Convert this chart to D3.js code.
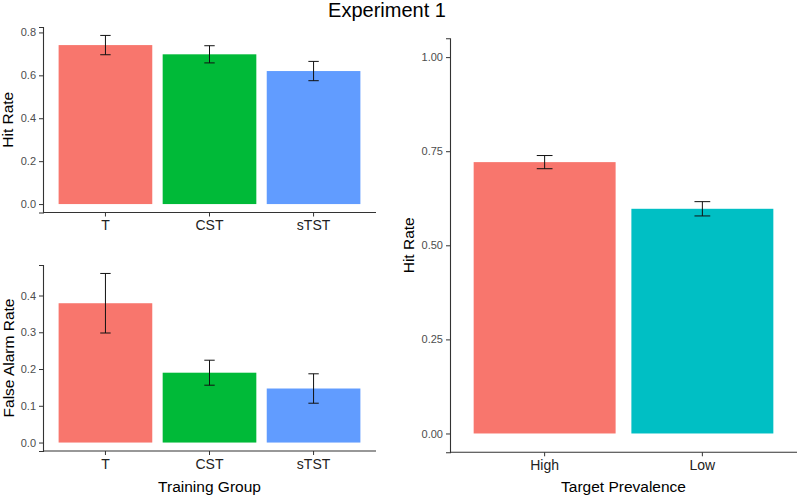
<!DOCTYPE html>
<html>
<head>
<meta charset="utf-8">
<script src="https://cdn.jsdelivr.net/npm/d3@7"></script>
<style>
  body { margin: 0; background: #fff; }
  svg { display: block; font-family: "Liberation Sans", Arial, sans-serif; }
</style>
</head>
<body>
<svg id="chart" width="797" height="496"></svg>
<script>
// training groups (left panels)
const groups = ["T", "CST", "sTST"];
const groupColors = ["#F8766D", "#00BA38", "#619CFF"];
const hitRate = [0.741, 0.698, 0.620];
const hitErr = [0.045, 0.040, 0.045];
const faRate = [0.379, 0.190, 0.147];
const faErr = [0.081, 0.034, 0.040];
const hitTicks = [0, 0.2, 0.4, 0.6, 0.8];
const faTicks = [0, 0.1, 0.2, 0.3, 0.4];

// target prevalence (right panel)
const prevalence = ["High", "Low"];
const prevColors = ["#F8766D", "#00BFC4"];
const prevHit = [0.721, 0.597];
const prevErr = [0.0175, 0.019];
const prevTicks = [0, 0.25, 0.5, 0.75, 1];

const svg = d3.select("#chart");

svg.append("text")
    .attr("x", 387).attr("y", 17)
    .attr("text-anchor", "middle")
    .style("font-size", "20px")
    .text("Experiment 1");

// ggplot style bar panel with error bars
function drawPanel(opt) {
    const g = svg.append("g");
    const lo = opt.domain[0], hi = opt.domain[1];
    const pad = (hi - lo) * 0.05;
    const y = d3.scaleLinear().domain([lo - pad, hi + pad]).range([opt.bottom, opt.top]);
    const x = d3.scaleBand().domain(opt.cats).range([opt.left, opt.right])
        .paddingInner(0.1).paddingOuter(0.15);
    const step = x.step();

    const rows = opt.cats.map((c, i) => ({ c: c, v: opt.values[i], e: opt.errs[i], col: opt.colors[i] }));

    g.selectAll("rect.bar").data(rows).enter().append("rect")
        .attr("class", "bar")
        .attr("x", d => x(d.c))
        .attr("width", x.bandwidth())
        .attr("y", d => y(d.v))
        .attr("height", d => y(0) - y(d.v))
        .attr("fill", d => d.col);

    const eb = g.selectAll("g.err").data(rows).enter().append("g")
        .attr("class", "err")
        .attr("stroke", "#111").attr("stroke-width", 1);
    const cx = d => x(d.c) + x.bandwidth() / 2;
    const cap = step * 0.05;
    eb.append("line").attr("x1", cx).attr("x2", cx)
        .attr("y1", d => y(d.v - d.e)).attr("y2", d => y(d.v + d.e));
    eb.append("line").attr("x1", d => cx(d) - cap).attr("x2", d => cx(d) + cap)
        .attr("y1", d => y(d.v + d.e)).attr("y2", d => y(d.v + d.e));
    eb.append("line").attr("x1", d => cx(d) - cap).attr("x2", d => cx(d) + cap)
        .attr("y1", d => y(d.v - d.e)).attr("y2", d => y(d.v - d.e));

    const yAxis = g.append("g")
        .attr("transform", `translate(${opt.left},0)`)
        .call(d3.axisLeft(y).tickValues(opt.ticks).tickFormat(d3.format(opt.fmt)).tickSizeOuter(0).tickSize(4).tickPadding(3));
    const xAxis = g.append("g")
        .attr("transform", `translate(0,${opt.bottom})`)
        .call(d3.axisBottom(x).tickSizeOuter(0).tickSize(4).tickPadding(4));

    [yAxis, xAxis].forEach(a => {
        a.select(".domain").attr("stroke", "#333").attr("stroke-width", 1.1);
        a.selectAll(".tick line").attr("stroke", "#333");
        a.selectAll(".tick text").attr("fill", "#4D4D4D").style("font-family", "Liberation Sans, Arial, sans-serif");
    });
    yAxis.selectAll(".tick text").style("font-size", "11px");
    xAxis.selectAll(".tick text").style("font-size", "14px").attr("fill", "#222");
    // extend x axis line to meet y axis
    xAxis.select(".domain").attr("d", `M${opt.left},0H${opt.right}`);

    g.append("text")
        .attr("transform", `translate(${opt.ylabX},${(opt.top + opt.bottom) / 2}) rotate(-90)`)
        .attr("text-anchor", "middle")
        .attr("dy", "0.35em")
        .style("font-size", "15.5px")
        .text(opt.ylab);

    if (opt.xlab) {
        g.append("text")
            .attr("x", (opt.left + opt.right) / 2)
            .attr("y", opt.xlabY)
            .attr("text-anchor", "middle")
            .style("font-size", "15.5px")
            .text(opt.xlab);
    }
}

drawPanel({
    cats: groups, values: hitRate, errs: hitErr, colors: groupColors,
    domain: [0, d3.max(hitRate.map((v, i) => v + hitErr[i]))],
    ticks: hitTicks, fmt: ".1f",
    left: 43, right: 376, top: 27, bottom: 212.5,
    ylab: "Hit Rate", ylabX: 8
});

drawPanel({
    cats: groups, values: faRate, errs: faErr, colors: groupColors,
    domain: [0, d3.max(faRate.map((v, i) => v + faErr[i]))],
    ticks: faTicks, fmt: ".1f",
    left: 43, right: 376, top: 265, bottom: 451,
    ylab: "False Alarm Rate", ylabX: 9,
    xlab: "Training Group", xlabY: 492
});

drawPanel({
    cats: prevalence, values: prevHit, errs: prevErr, colors: prevColors,
    domain: [0, 1],
    ticks: prevTicks, fmt: ".2f",
    left: 450, right: 797, top: 38.3, bottom: 452.3,
    ylab: "Hit Rate", ylabX: 409,
    xlab: "Target Prevalence", xlabY: 492
});
</script>
</body>
</html>
